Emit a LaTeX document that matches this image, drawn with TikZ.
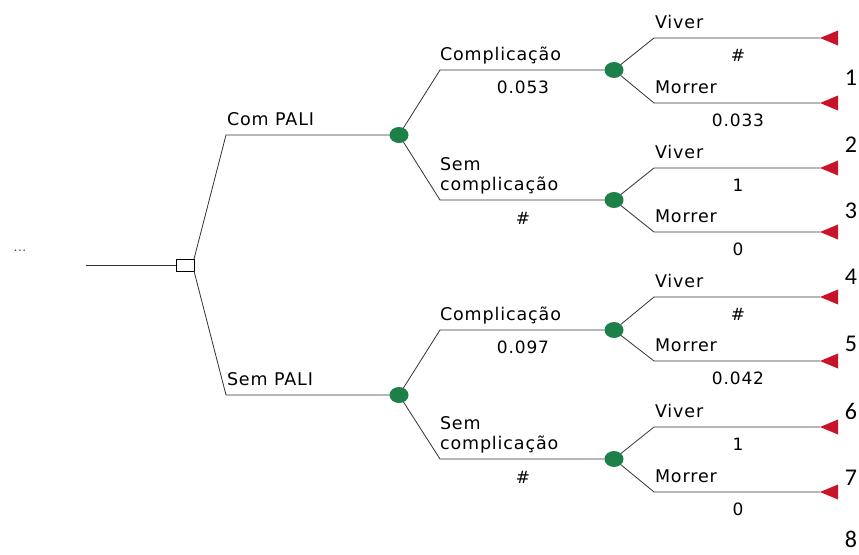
\documentclass[tikz,border=0pt]{standalone}
\usepackage{fontspec}
\setmainfont{DejaVu Sans}[LetterSpace=5]
\newfontfamily\numfont{Carlito}
\usepackage{tikz}
\usetikzlibrary{positioning,calc,shapes.geometric}
\definecolor{chancegreen}{RGB}{28,128,72}
\definecolor{endred}{RGB}{200,20,40}
\definecolor{linegray}{RGB}{50,50,50}

\begin{document}
\begin{tikzpicture}[x=1pt,y=-1pt,
	every node/.style={inner sep=0pt,outer sep=0pt},
	branch/.style={draw=linegray,line width=0.8pt},
	decision/.style={draw=black,fill=white,line width=0.9pt,minimum width=18pt,minimum height=12pt},
	chance/.style={ellipse,fill=chancegreen,minimum width=19pt,minimum height=16pt},
	terminal/.style={isosceles triangle,isosceles triangle stretches,shape border rotate=180,fill=endred,minimum height=18pt,minimum width=15pt,anchor=apex},
	lbl/.style={font=\fontsize{17.5}{20}\selectfont,anchor=base west,align=left},
	prob/.style={font=\fontsize{17}{20}\selectfont},
	outcome/.style={font=\numfont\fontsize{24}{26}\selectfont}
	]
	% frame of the picture
	\useasboundingbox (0,0) rectangle (859,554);
	
	% root
	\node (dots) at (20,251) [font=\fontsize{12}{12}\selectfont,text=darkgray] {...};
	\coordinate (start) at (86,265);
	\node (d) at (185,265) [decision] {};
	\draw[branch] (start) -- (d.west);
	
	% first level: Com PALI / Sem PALI
	\coordinate (ecom) at (226,135);
	\coordinate (esem) at (226,395);
	\node (c1) at (399,135) [chance] {};
	\node (c2) at (399,395) [chance] {};
	\draw[branch] (d.north east) -- (ecom) -- (c1);
	\draw[branch] (d.south east) -- (esem) -- (c2);
	\node (lcom) at ($(ecom)+(1,-10)$) [lbl] {Com PALI};
	\node (lsem) at ($(esem)+(1,-10)$) [lbl] {Sem PALI};
	
	% second level: Complicação / Sem complicação
	\coordinate (e11) at (440,70);
	\coordinate (e12) at (440,200);
	\coordinate (e21) at (440,330);
	\coordinate (e22) at (440,459);
	\node (c11) at (614,70) [chance] {};
	\node (c12) at (614,200) [chance] {};
	\node (c21) at (614,330) [chance] {};
	\node (c22) at (614,459) [chance] {};
	\draw[branch] (c1) -- (e11) -- (c11);
	\draw[branch] (c1) -- (e12) -- (c12);
	\draw[branch] (c2) -- (e21) -- (c21);
	\draw[branch] (c2) -- (e22) -- (c22);
	\node (l11) at ($(e11)+(0,-10)$) [lbl] {Complicação};
	\node (p11) at ($(e11)+(83,17)$) [prob] {0.053};
	\node (l12) at ($(e12)+(0,-10)$) [lbl] {Sem\\complicação};
	\node (p12) at ($(e12)+(83,18)$) [prob] {\#};
	\node (l21) at ($(e21)+(0,-10)$) [lbl] {Complicação};
	\node (p21) at ($(e21)+(83,17)$) [prob] {0.097};
	\node (l22) at ($(e22)+(0,-10)$) [lbl] {Sem\\complicação};
	\node (p22) at ($(e22)+(83,18)$) [prob] {\#};
	
	% third level: Viver / Morrer, ending in terminal nodes
	\foreach \c/\yv/\ym/\pv/\pmor in {c11/38/103/\#/0.033, c12/168/232/1/0,
		c21/297/361/\#/0.042, c22/427/492/1/0}{
		\coordinate (\c v) at (654,\yv);
		\coordinate (\c m) at (654,\ym);
		\node (\c tv) at (820,\yv) [terminal] {};
		\node (\c tm) at (820,\ym) [terminal] {};
		\draw[branch] (\c) -- (\c v) -- (\c tv);
		\draw[branch] (\c) -- (\c m) -- (\c tm);
		\node (\c lv) at ($(\c v)+(1,-10)$) [lbl] {Viver};
		\node (\c lm) at ($(\c m)+(1,-10)$) [lbl] {Morrer};
		\node (\c pv) at ($(\c v)+(84,17)$) [prob] {\pv};
		\node (\c pm) at ($(\c m)+(84,17)$) [prob] {\pmor};
	}
	
	% outcome numbers
	\foreach \k/\y in {1/78,2/145,3/211,4/277,5/344,6/411,7/478,8/539}
		\node (o\k) at (851,\y) [outcome] {\k};
	
\end{tikzpicture}
\end{document}
